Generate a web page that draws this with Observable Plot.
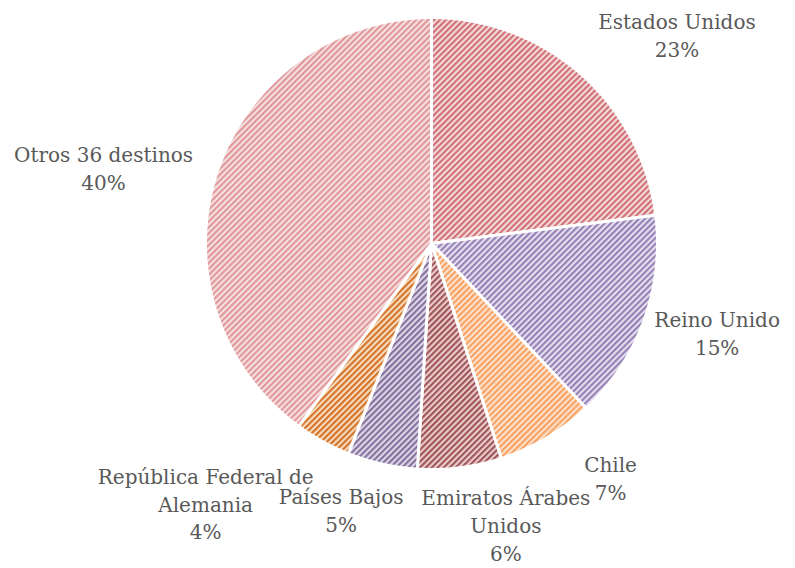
<!DOCTYPE html>
<html>
<head>
<meta charset="utf-8">
<script src="https://cdn.jsdelivr.net/npm/d3@7"></script>
<script src="https://cdn.jsdelivr.net/npm/@observablehq/plot@0.6"></script>
<style>
  html, body { margin: 0; padding: 0; background: #fff; }
  #chart { width: 795px; height: 568px; }
</style>
</head>
<body>
<div id="chart"></div>
<script>
// ---- data ----
const destinos = ["Estados Unidos", "Reino Unido", "Chile", "Emiratos Árabes Unidos", "Países Bajos", "República Federal de Alemania", "Otros 36 destinos"];
const porcentajes = [23, 15, 7, 6, 5, 4, 40];
const etiquetas = ["Estados Unidos", "Reino Unido", "Chile", "Emiratos Árabes\nUnidos", "Países Bajos", "República Federal de\nAlemania", "Otros 36 destinos"];

// ---- styles (hatch: stripe colour, background colour) ----
const stripeColors = ["#d06f75", "#9380b6", "#f8a161", "#9e5457", "#82709d", "#d2732a", "#e0979a"];
const bgColors     = ["#f4dcdc", "#e6e0ee", "#fde3cf", "#ebcdcd", "#ddd7e7", "#f9dbbd", "#f6e0e0"];
// label nudges (px) from the slice's mid-angle point on the rim
const labelNudge = [[96, -40], [73, 12], [64, 39], [46, 56], [-41, 45], [-117, 61], [-113, -7]];
const R = 226; // px radius used to convert nudges to data units

const rows = destinos.map((d, i) => ({name: d, value: porcentajes[i], label: etiquetas[i] + "\n" + porcentajes[i] + "%"}));
const arcs = d3.pie().sort(null).value(d => d.value)(rows);

// polygon points for each slice
const pts = [];
for (const a of arcs) {
  pts.push({name: a.data.name, x: 0, y: 0});
  const n = Math.max(2, Math.ceil((a.endAngle - a.startAngle) / (Math.PI / 360)));
  for (let k = 0; k <= n; k++) {
    const t = a.startAngle + (a.endAngle - a.startAngle) * k / n;
    pts.push({name: a.data.name, x: Math.sin(t), y: Math.cos(t)});
  }
  pts.push({name: a.data.name, x: 0, y: 0});
}

const labels = arcs.map((a, i) => {
  const m = (a.startAngle + a.endAngle) / 2;
  return {
    name: a.data.name,
    label: a.data.label,
    x: Math.sin(m) + labelNudge[i][0] / R,
    y: Math.cos(m) - labelNudge[i][1] / R
  };
});

const font = "'DejaVu Serif', 'Liberation Serif', serif";

const svg = Plot.plot({
  width: 795,
  height: 568,
  marginLeft: 205,
  marginRight: 138,
  marginTop: 17,
  marginBottom: 99,
  x: {domain: [-1, 1], axis: null},
  y: {domain: [-1, 1], axis: null},
  color: {type: "ordinal", domain: destinos, range: destinos.map((d, i) => `url(#hatch${i})`)},
  style: {fontFamily: font, background: "#fff"},
  marks: [
    Plot.line(pts, {x: "x", y: "y", z: "name", fill: "name", stroke: "white", strokeWidth: 3, strokeLinejoin: "round"}),
    Plot.text(labels, {x: "x", y: "y", text: "label", fill: "#595959", fontSize: 20, lineHeight: 1.4, lineAnchor: "middle", textAnchor: "middle"})
  ]
});

// hatch patterns
const defs = d3.select(svg).insert("defs", ":first-child");
destinos.forEach((d, i) => {
  const p = defs.append("pattern")
    .attr("id", `hatch${i}`)
    .attr("patternUnits", "userSpaceOnUse")
    .attr("width", 4.2).attr("height", 4.2)
    .attr("patternTransform", "rotate(45)");
  p.append("rect").attr("width", 4.2).attr("height", 4.2).attr("fill", bgColors[i]);
  p.append("rect").attr("x", 0).attr("width", 2.1).attr("height", 4.2).attr("fill", stripeColors[i]);
});

document.getElementById("chart").appendChild(svg);
</script>
</body>
</html>
